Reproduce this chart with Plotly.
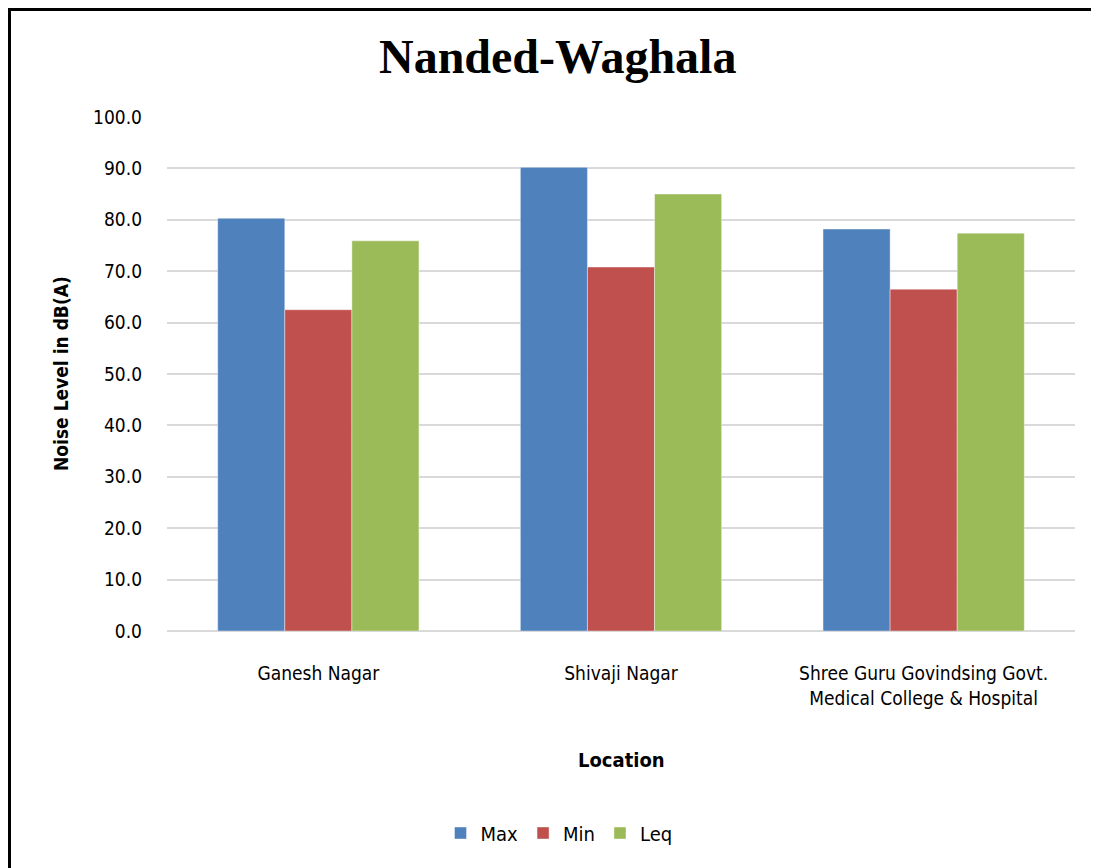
import plotly.graph_objects as go

categories = ["Ganesh Nagar", "Shivaji Nagar", "Shree Guru Govindsing Govt.<br>Medical College & Hospital"]
max_vals = [80.3, 90.2, 78.2]
min_vals = [62.5, 70.8, 66.5]
leq_vals = [75.9, 85.0, 77.4]
tick_vals = [0, 10, 20, 30, 40, 50, 60, 70, 80, 90, 100]
tick_text = [f"{v:.1f}" for v in tick_vals]

FONT = "Liberation Sans Narrow, DejaVu Sans Condensed, Arial Narrow, sans-serif"

fig = go.Figure()
for name, vals, color in [("Max", max_vals, "#4F81BD"), ("Min", min_vals, "#C0504D"), ("Leq", leq_vals, "#9BBB59")]:
    fig.add_trace(go.Bar(x=categories, y=vals, name=name,
                         marker=dict(color=color, line=dict(color="rgba(255,255,255,0.4)", width=1))))

O = 8  # page body offset
W, H = 1099 - O, 868 - O
# target plot area in page pixels: x 167..1075, y 117..631
L = 167 - O
T = 117 - O
R = O + W - 1075
B = O + H - 631
pw, ph = W - L - R, H - T - B

def px(x):
    return (x - 167) / pw

def py(y):
    return (631 - y) / ph

fig.update_layout(
    width=W, height=H,
    margin=dict(l=L, r=R, t=T, b=B),
    paper_bgcolor="white", plot_bgcolor="white",
    barmode="group", bargap=0.335, bargroupgap=0,
    font=dict(family=FONT, color="#000000", size=19),
    showlegend=True,
    legend=dict(orientation="h", x=px(559), y=py(833), xanchor="center", yanchor="middle",
                font=dict(family=FONT, size=20), itemwidth=30, traceorder="normal"),
    xaxis=dict(showgrid=False, showline=False, ticks="", tickfont=dict(family=FONT, size=19),
               ticklabelstandoff=29),
    yaxis=dict(range=[0, 100], tickvals=tick_vals, ticktext=tick_text, showgrid=True,
               gridcolor="#D9D9D9", gridwidth=1.5, zeroline=True, zerolinecolor="#D9D9D9",
               zerolinewidth=1.5, showline=False, ticks="", tickfont=dict(family=FONT, size=19),
               ticklabelstandoff=24),
    annotations=[
        dict(text="<b>Nanded-Waghala</b>", xref="paper", yref="paper", x=px(557), y=py(57),
             xanchor="center", yanchor="middle", showarrow=False,
             font=dict(family="Liberation Serif, Times New Roman, serif", size=48, color="#000")),
        dict(text="<b>Location</b>", xref="paper", yref="paper", x=px(621), y=py(760),
             xanchor="center", yanchor="middle", showarrow=False,
             font=dict(family=FONT, size=20, color="#000")),
        dict(text="<b>Noise Level in dB(A)</b>", xref="paper", yref="paper", x=px(61), y=py(374),
             xanchor="center", yanchor="middle", showarrow=False, textangle=-90,
             font=dict(family=FONT, size=19, color="#000")),
    ],
    shapes=[
        dict(type="line", xref="paper", yref="paper", x0=px(9.5), x1=px(9.5), y0=py(8), y1=py(880),
             line=dict(color="black", width=3), layer="above"),
        dict(type="line", xref="paper", yref="paper", x0=px(8), x1=px(1110), y0=py(9.5), y1=py(9.5),
             line=dict(color="black", width=3), layer="above"),
    ],
)

fig.write_html("out.html")
